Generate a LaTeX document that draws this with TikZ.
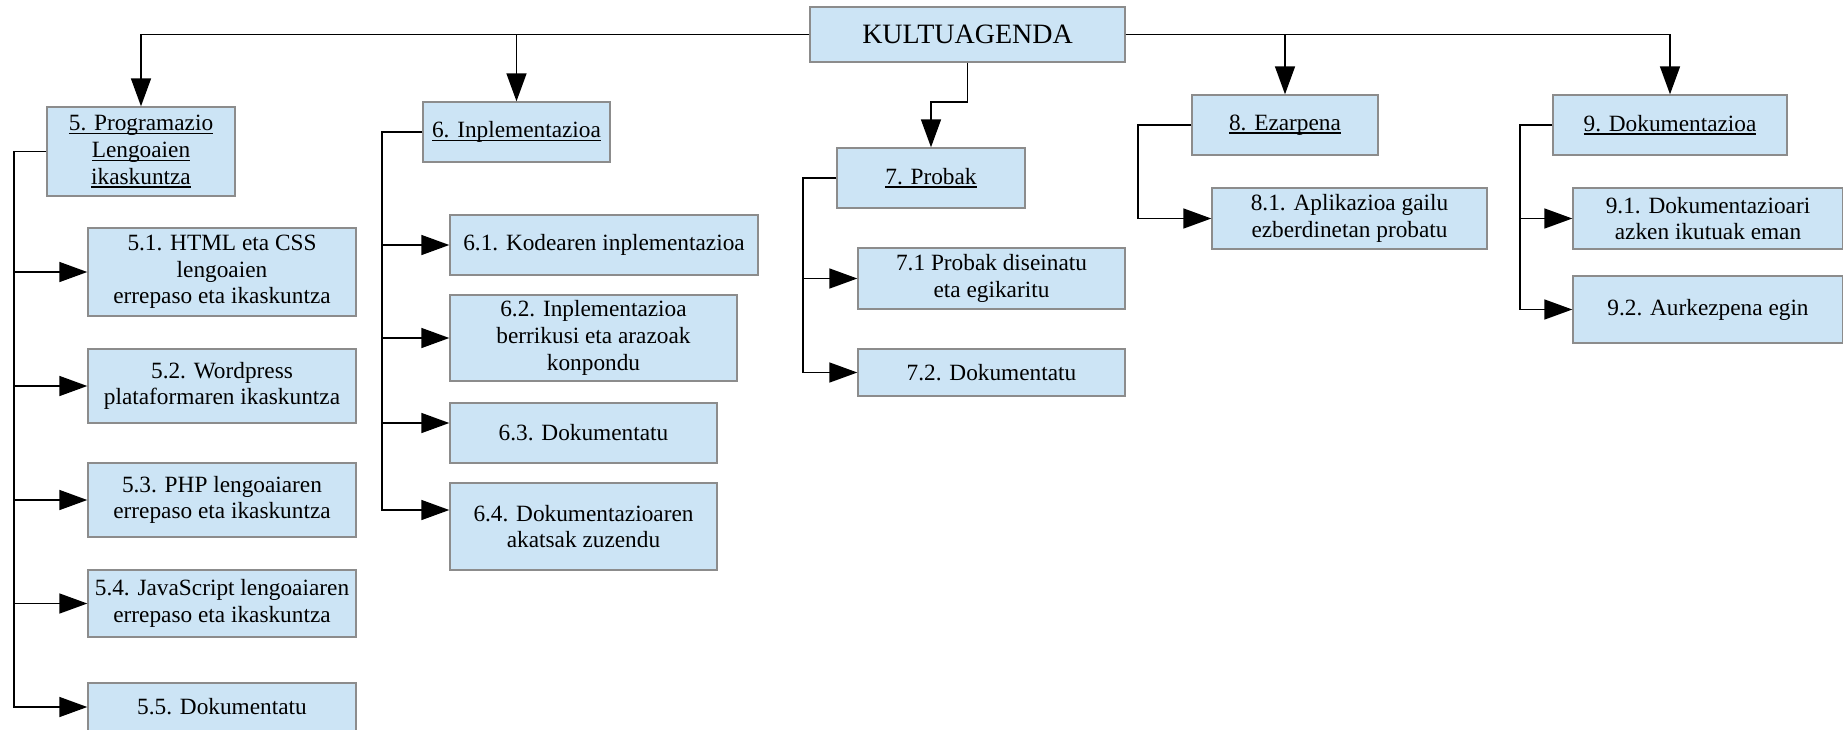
\documentclass[tikz,border=0pt]{standalone}
\usepackage{fontspec}
\setmainfont{Liberation Serif}
\usetikzlibrary{arrows.meta}
\definecolor{boxblue}{HTML}{CCE4F5}
\definecolor{boxrim}{HTML}{8C8C8C}
\newcommand{\undl}[1]{\sbox0{#1}\rlap{\rule[-3.3pt]{\wd0}{1.3pt}}\usebox0}
\tikzset{
  box/.style={draw=boxrim, line width=1.4pt, fill=boxblue, align=center,
              inner sep=0pt, font=\fontsize{23.3}{26.7}\selectfont},
  dim/.style n args={2}{minimum width=#1pt, minimum height=#2pt},
  flow/.style={->, line width=1.6pt, black},
}

\begin{document}
\begin{tikzpicture}[
  x=1pt, y=-1pt,
  >={Triangle[length=28pt,width=20pt]},
]
\useasboundingbox (0,0) rectangle (1843,729);

% root
\node[box, dim={315}{55}, font=\fontsize{28}{30}\selectfont] (root) at (967.5,34.5) {KULTUAGENDA};

% 5. Programazio
\node[box, dim={188}{89}] (b5) at (141,151.5)
  {\undl{5. Programazio}\\\undl{Lengoaien}\\\undl{ikaskuntza}};
\node[box, dim={268}{88}] (b51) at (222,272)
  {5.1. HTML eta CSS\\lengoaien\\errepaso eta ikaskuntza};
\node[box, dim={268}{74}] (b52) at (222,386)
  {5.2. Wordpress\\plataformaren ikaskuntza};
\node[box, dim={268}{74}] (b53) at (222,500)
  {5.3. PHP lengoaiaren\\errepaso eta ikaskuntza};
\node[box, dim={268}{67}] (b54) at (222,603.5)
  {5.4. JavaScript lengoaiaren\\errepaso eta ikaskuntza};
\node[box, dim={268}{48}] (b55) at (222,707) {5.5. Dokumentatu};

% 6. Inplementazioa
\node[box, dim={187}{60}] (b6) at (516.5,132) {\undl{6. Inplementazioa}};
\node[box, dim={308}{60}] (b61) at (604,245) {6.1. Kodearen inplementazioa};
\node[box, dim={287}{86}] (b62) at (593.5,338)
  {6.2. Inplementazioa\\berrikusi eta arazoak\\konpondu};
\node[box, dim={267}{60}] (b63) at (583.5,433) {6.3. Dokumentatu};
\node[box, dim={267}{87}] (b64) at (583.5,526.5)
  {6.4. Dokumentazioaren\\akatsak zuzendu};

% 7. Probak
\node[box, dim={188}{60}] (b7) at (931,178) {\undl{7. Probak}};
\node[box, dim={267}{61}] (b71) at (991.5,278.5)
  {7.1 Probak diseinatu\\eta egikaritu};
\node[box, dim={267}{47}] (b72) at (991.5,372.5) {7.2. Dokumentatu};

% 8. Ezarpena
\node[box, dim={186}{60}] (b8) at (1285,125) {\undl{8. Ezarpena}};
\node[box, dim={275}{61}] (b81) at (1349.5,218.5)
  {8.1. Aplikazioa gailu\\ezberdinetan probatu};

% 9. Dokumentazioa
\node[box, dim={234}{60}] (b9) at (1670,125) {\undl{9. Dokumentazioa}};
\node[box, dim={270}{61}] (b91) at (1708,218.5)
  {9.1. Dokumentazioari\\azken ikutuak eman};
\node[box, dim={270}{67}] (b92) at (1708,309.5) {9.2. Aurkezpena egin};

% top level branches
\draw[flow] (root.west) -| (b5.north);
\draw[flow] (root.west) -| (b6.north);
\draw[flow] (root.east) -| (b8.north);
\draw[flow] (root.east) -| (b9.north);
\coordinate (k7) at (967.5,102);
\draw[flow] (root.south) -- (k7) -| (b7.north);

% rails to the sub-tasks
\coordinate (r5) at (14,0);
\coordinate (r6) at (382,0);
\coordinate (r7) at (803,0);
\coordinate (r8) at (1138,0);
\coordinate (r9) at (1520,0);
\coordinate (t63) at ([yshift=10pt]b63.west);
\coordinate (t64) at ([yshift=16.5pt]b64.west);

\draw[flow] (b5.west) -| (r5 |- b55.west) -- (b55.west);
\foreach \n in {b51,b52,b53,b54}
  \draw[flow] (r5 |- \n.west) -- (\n.west);

\draw[flow] (b6.west) -| (r6 |- t64) -- (t64);
\foreach \n in {b61.west,b62.west,t63}
  \draw[flow] (r6 |- \n) -- (\n);

\draw[flow] (b7.west) -| (r7 |- b72.west) -- (b72.west);
\draw[flow] (r7 |- b71.west) -- (b71.west);

\draw[flow] (b8.west) -| (r8 |- b81.west) -- (b81.west);

\draw[flow] (b9.west) -| (r9 |- b92.west) -- (b92.west);
\draw[flow] (r9 |- b91.west) -- (b91.west);
\end{tikzpicture}
\end{document}
